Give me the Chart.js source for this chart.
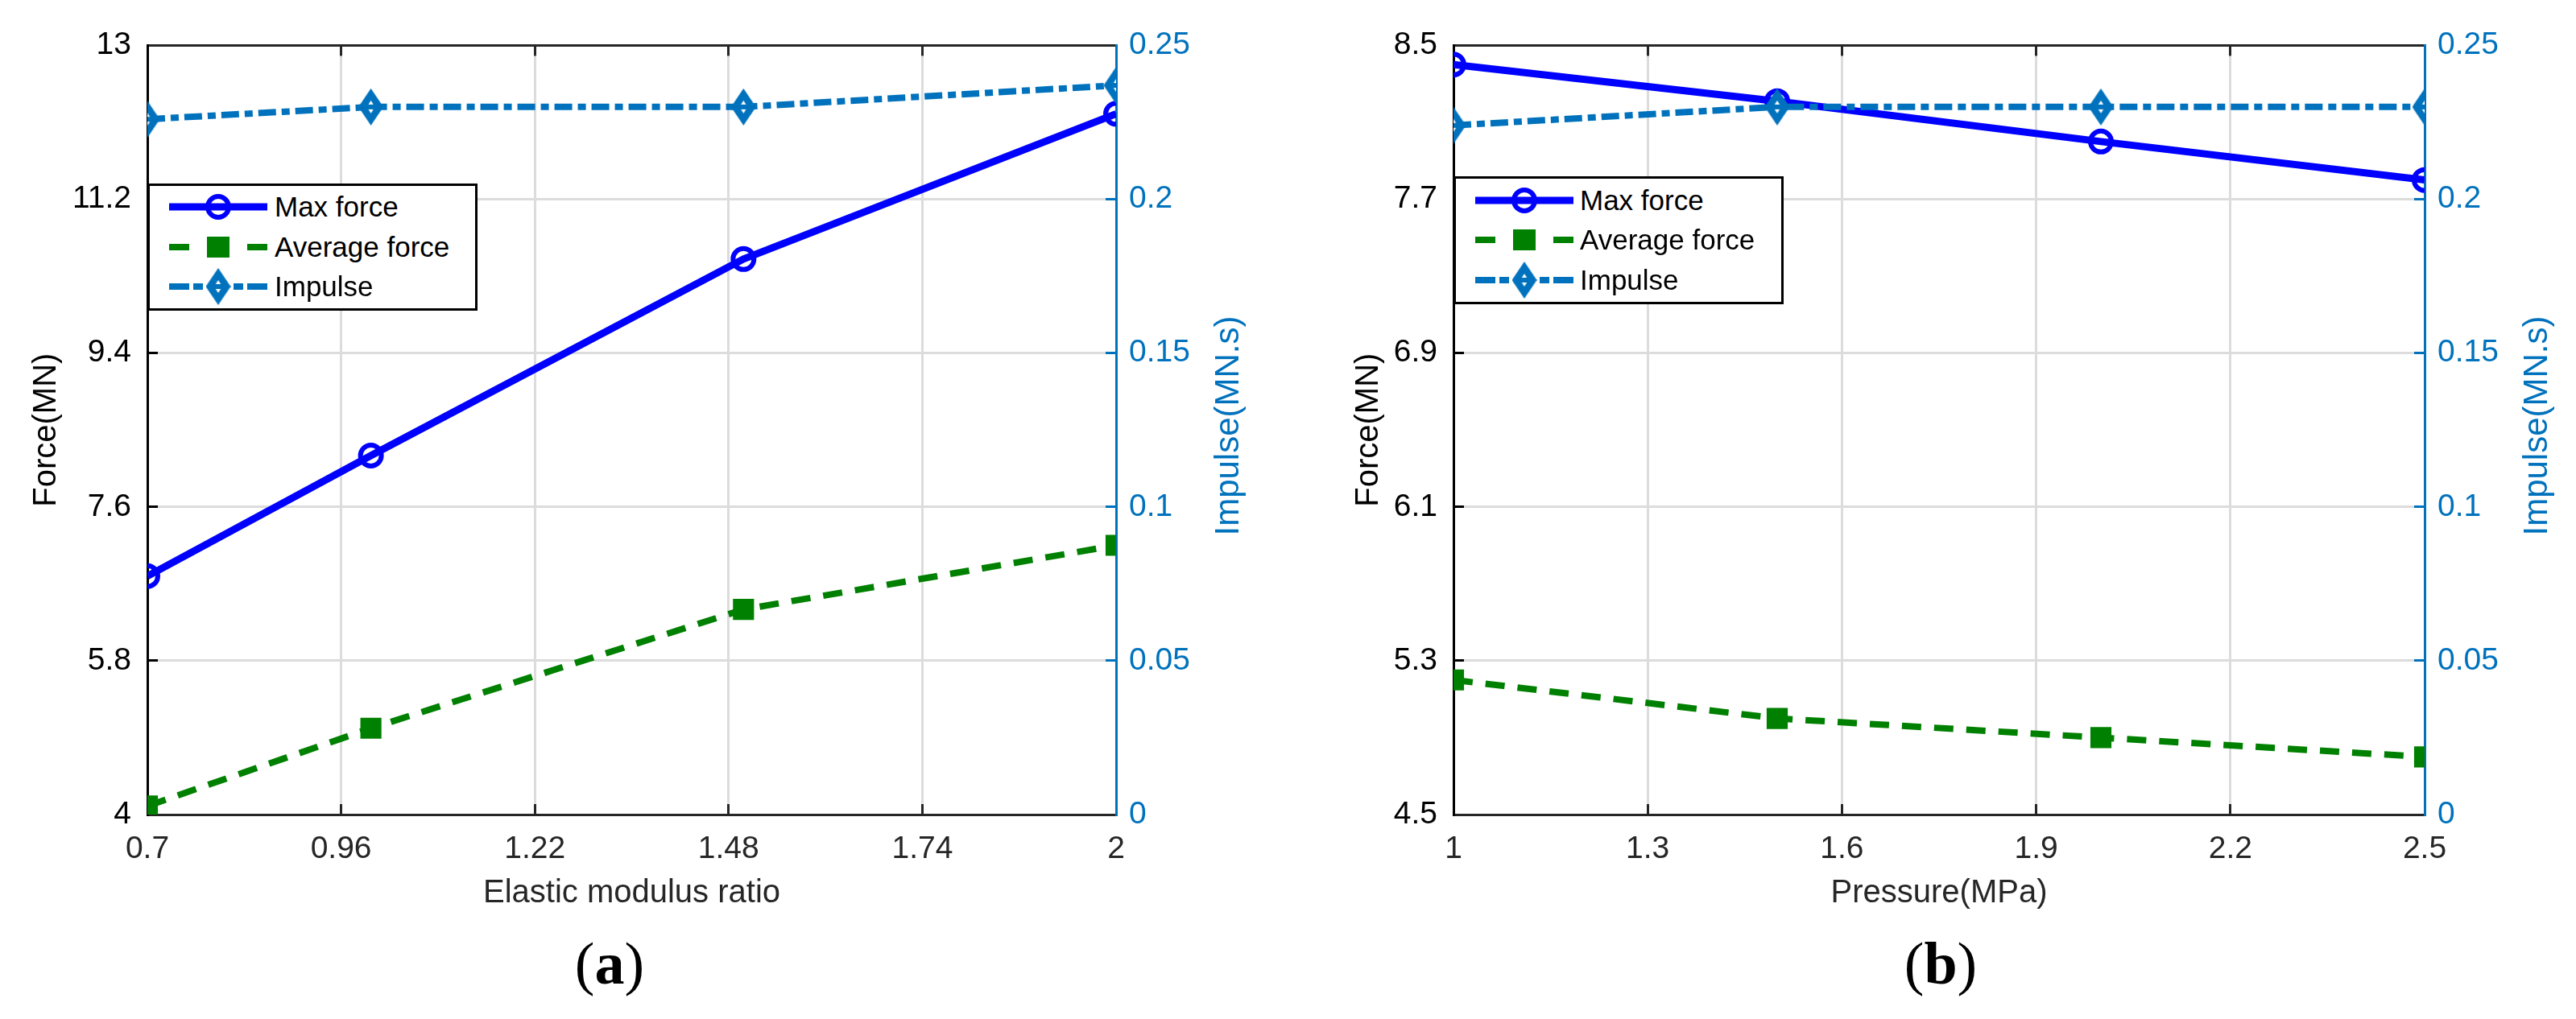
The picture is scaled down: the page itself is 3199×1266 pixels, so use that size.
<!DOCTYPE html>
<html><head><meta charset="utf-8">
<script src="https://cdn.jsdelivr.net/npm/chart.js@4.4.1/dist/chart.umd.min.js"></script>
<style>
html,body{margin:0;padding:0;background:#fff;width:3199px;height:1266px;overflow:hidden;font-family:"Liberation Sans",Arial,sans-serif;}
.panel{position:absolute;top:0;height:1150px;}
.legend{position:absolute;box-sizing:border-box;border:3px solid #000;background:#fff;width:410px;}
.row{position:absolute;left:0;height:50px;width:100%;}
.row canvas{position:absolute;top:0;}
.row span{position:absolute;top:0;line-height:50px;font-size:35px;color:#000;white-space:nowrap;}
.cap{position:absolute;width:400px;text-align:center;font-family:"Liberation Serif","Times New Roman",serif;font-size:74px;line-height:74px;color:#000;}
.rtitle{position:absolute;width:600px;height:60px;line-height:60px;text-align:center;font-size:42px;color:#0072BD;transform:rotate(-90deg);white-space:nowrap;}
</style></head>
<body>
<div class="panel" id="pa" style="left:0;width:1600px;"><canvas id="ca"></canvas></div>
<div class="panel" id="pb" style="left:1600px;width:1599px;"><canvas id="cb"></canvas></div>
<div class="rtitle" style="left:1224px;top:499px;">Impulse(MN.s)</div>
<div class="rtitle" style="left:2849px;top:499px;">Impulse(MN.s)</div>
<div class="cap" style="left:557px;top:1160px;">(<b>a</b>)</div>
<div class="cap" style="left:2210px;top:1160px;">(<b>b</b>)</div>
<script>
// ---- data ----
const seriesNames = ['Max force', 'Average force', 'Impulse'];
const impulseTicks = [0, 0.05, 0.1, 0.15, 0.2, 0.25];

const xTicksA = [0.7, 0.96, 1.22, 1.48, 1.74, 2];
const yTicksA = [4, 5.8, 7.6, 9.4, 11.2, 13];
const ratioA = [0.7, 1.0, 1.5, 2.0];
const maxForceA = [6.79, 8.20, 10.50, 12.20];
const avgForceA = [4.10, 5.01, 6.40, 7.15];
const impulseA = [0.226, 0.230, 0.230, 0.237];

const xTicksB = [1, 1.3, 1.6, 1.9, 2.2, 2.5];
const yTicksB = [4.5, 5.3, 6.1, 6.9, 7.7, 8.5];
const pressureB = [1.0, 1.5, 2.0, 2.5];
const maxForceB = [8.40, 8.21, 8.00, 7.80];
const avgForceB = [5.20, 5.00, 4.90, 4.80];
const impulseB = [0.224, 0.230, 0.230, 0.230];

// ---- styles ----
const FAM = '"Liberation Sans", Arial, Helvetica, sans-serif';
const C_MAX = '#0000FF', C_AVG = '#008000', C_IMP = '#0072BD';
Chart.defaults.font.family = FAM;

function diamondImg(w, h, color) {
  const c = document.createElement('canvas'); c.width = w; c.height = h;
  const g = c.getContext('2d');
  g.fillStyle = color; g.beginPath();
  g.moveTo(w/2, 0); g.lineTo(w, h/2); g.lineTo(w/2, h); g.lineTo(0, h/2); g.closePath(); g.fill();
  g.fillStyle = '#fff'; g.beginPath();
  g.moveTo(w/2, h/2-8); g.lineTo(w/2+5, h/2); g.lineTo(w/2, h/2+8); g.lineTo(w/2-5, h/2); g.closePath(); g.fill();
  g.fillStyle = color; g.fillRect(w/2-6, h/2-3, 12, 6);
  return c;
}
const DIAMOND = diamondImg(31, 46, C_IMP);

function pts(xs, ys) { return xs.map((x, i) => ({x: x, y: ys[i]})); }
function setTicks(arr) { return s => { s.ticks = arr.map(v => ({value: v})); }; }

function makeChart(id, o) {
  const gridBase = {color: '#dcdcdc', lineWidth: 3, tickLength: -13, tickWidth: 3};
  return new Chart(document.getElementById(id), {
    type: 'line',
    data: {datasets: [
      {label: seriesNames[0], data: pts(o.xs, o.maxF), xAxisID: 'x', yAxisID: 'y',
       borderColor: C_MAX, borderWidth: 9, tension: 0, clip: 0, order: 2,
       pointStyle: 'circle', pointRadius: 13, pointBorderWidth: 6,
       pointBorderColor: C_MAX, pointBackgroundColor: 'rgba(0,0,0,0)'},
      {label: seriesNames[1], data: pts(o.xs, o.avgF), xAxisID: 'x', yAxisID: 'y',
       borderColor: C_AVG, borderWidth: 8, borderDash: [24, 16], tension: 0, clip: 0, order: 1,
       pointStyle: 'rect', pointRadius: 18.5, pointBorderWidth: 0,
       pointBackgroundColor: C_AVG, pointBorderColor: C_AVG},
      {label: seriesNames[2], data: pts(o.xs, o.imp), xAxisID: 'x', yAxisID: 'y1',
       borderColor: C_IMP, borderWidth: 8, borderDash: [22, 7, 10, 7], tension: 0, clip: 0, order: 0,
       pointStyle: DIAMOND, pointRadius: 20, pointBorderWidth: 0,
       pointBackgroundColor: C_IMP, pointBorderColor: C_IMP}
    ]},
    options: {
      responsive: true, maintainAspectRatio: false, animation: false,
      layout: {padding: {top: 45, left: 0, right: 0, bottom: 0}},
      plugins: {legend: {display: false}, tooltip: {enabled: false}, title: {display: false}},
      scales: {
        x: {type: 'linear', position: 'bottom', min: o.xTicks[0], max: o.xTicks[o.xTicks.length-1],
            afterBuildTicks: setTicks(o.xTicks), afterFit: s => { s.height = 138; },
            grid: Object.assign({}, gridBase, {tickColor: '#262626'}),
            border: {color: '#262626', width: 3},
            ticks: {color: '#262626', font: {size: 39}, padding: 33, maxRotation: 0, autoSkip: false,
                    callback: v => String(v)},
            title: {display: true, text: o.xTitle, color: '#262626', font: {size: 40},
                    padding: {top: 0, bottom: 16}}},
        x2: {type: 'linear', position: 'top', min: o.xTicks[0], max: o.xTicks[o.xTicks.length-1],
            afterBuildTicks: setTicks(o.xTicks), afterFit: s => { s.height = 0; },
            grid: Object.assign({}, gridBase, {drawOnChartArea: false, tickColor: '#262626'}),
            border: {color: '#262626', width: 3},
            ticks: {display: false}},
        y: {type: 'linear', position: 'left', min: o.yTicks[0], max: o.yTicks[o.yTicks.length-1],
            afterBuildTicks: setTicks(o.yTicks), afterFit: s => { s.width = o.leftW; },
            grid: Object.assign({}, gridBase, {tickColor: '#000'}),
            border: {color: '#000', width: 3},
            ticks: {color: '#000', font: {size: 39}, padding: 33, autoSkip: false, callback: v => String(v)},
            title: {display: true, text: 'Force(MN)', color: '#000', font: {size: 40},
                    padding: {top: o.leftTitlePad, bottom: 0}}},
        y1: {type: 'linear', position: 'right', min: impulseTicks[0], max: impulseTicks[impulseTicks.length-1],
            afterBuildTicks: setTicks(impulseTicks), afterFit: s => { s.width = o.rightW; },
            grid: Object.assign({}, gridBase, {drawOnChartArea: false, tickColor: C_IMP}),
            border: {color: C_IMP, width: 3},
            ticks: {color: C_IMP, font: {size: 39}, padding: 29, autoSkip: false, callback: v => String(v)},
            title: {display: false}}
      }
    }
  });
}

makeChart('ca', {xs: ratioA, maxF: maxForceA, avgF: avgForceA, imp: impulseA,
  xTicks: xTicksA, yTicks: yTicksA, xTitle: 'Elastic modulus ratio',
  leftW: 183, rightW: 214, leftTitlePad: 34});
makeChart('cb', {xs: pressureB, maxF: maxForceB, avgF: avgForceB, imp: impulseB,
  xTicks: xTicksB, yTicks: yTicksB, xTitle: 'Pressure(MPa)',
  leftW: 205, rightW: 188, leftTitlePad: 76});

// ---- legends (HTML boxes with drawn samples) ----
function sample(kind) {
  const c = document.createElement('canvas'); c.width = 122; c.height = 50;
  const g = c.getContext('2d'); const cy = 25;
  function seg(a, b, col, w) { g.strokeStyle = col; g.lineWidth = w; g.beginPath(); g.moveTo(a, cy); g.lineTo(b, cy); g.stroke(); }
  if (kind === 0) {
    seg(0, 122, C_MAX, 9);
    g.strokeStyle = C_MAX; g.lineWidth = 6; g.beginPath(); g.arc(61, cy, 13, 0, Math.PI*2); g.stroke();
  } else if (kind === 1) {
    seg(0, 25, C_AVG, 8); seg(97, 122, C_AVG, 8);
    g.fillStyle = C_AVG; g.fillRect(47, cy-13, 28, 26);
  } else {
    seg(0, 25, C_IMP, 8); seg(30, 42, C_IMP, 8); seg(80, 92, C_IMP, 8); seg(97, 122, C_IMP, 8);
    g.drawImage(DIAMOND, 61 - DIAMOND.width/2, cy - DIAMOND.height/2);
  }
  return c;
}
function legend(left, top, height, rowTops, sampleLeft, textLeft) {
  const box = document.createElement('div'); box.className = 'legend';
  box.style.left = left + 'px'; box.style.top = top + 'px'; box.style.height = height + 'px';
  seriesNames.forEach((name, i) => {
    const r = document.createElement('div'); r.className = 'row'; r.style.top = rowTops[i] + 'px';
    const cv = sample(i); cv.style.left = sampleLeft + 'px'; r.appendChild(cv);
    const sp = document.createElement('span'); sp.textContent = name; sp.style.left = textLeft + 'px'; r.appendChild(sp);
    box.appendChild(r);
  });
  document.body.appendChild(box);
}
legend(183, 228, 158, [1, 51, 100], 24, 155);
legend(1805, 219, 159, [2, 51, 101], 24, 154);
</script>
</body></html>
